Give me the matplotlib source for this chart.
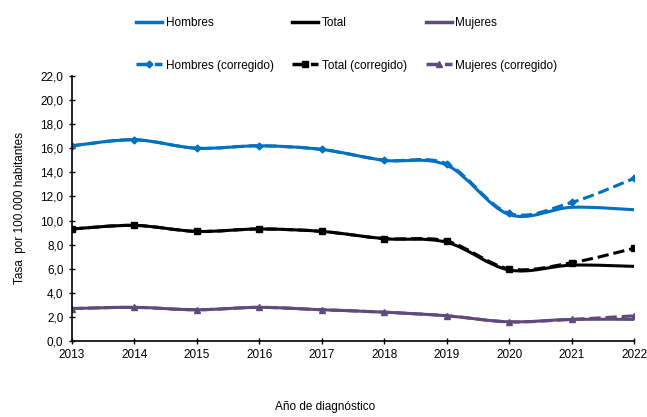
import numpy as np
import matplotlib.pyplot as plt
from matplotlib.path import Path
from matplotlib.patches import PathPatch
from matplotlib.lines import Line2D

plt.rcParams['font.family'] = ['Liberation Sans', 'DejaVu Sans']

years = [2013, 2014, 2015, 2016, 2017, 2018, 2019, 2020, 2021, 2022]

hombres = [16.2, 16.7, 16.0, 16.2, 15.9, 15.0, 14.6, 10.5, 11.1, 10.9]
total = [9.3, 9.6, 9.1, 9.3, 9.1, 8.5, 8.2, 5.9, 6.3, 6.2]
mujeres = [2.7, 2.8, 2.6, 2.8, 2.6, 2.4, 2.1, 1.6, 1.8, 1.8]

hombres_corr = [16.2, 16.7, 16.0, 16.2, 15.9, 15.0, 14.7, 10.6, 11.5, 13.5]
total_corr = [9.3, 9.6, 9.1, 9.3, 9.1, 8.5, 8.3, 6.0, 6.5, 7.7]
mujeres_corr = [2.7, 2.8, 2.6, 2.8, 2.6, 2.4, 2.1, 1.6, 1.8, 2.1]

c_h = '#0070C0'
c_t = '#000000'
c_m = '#604A7B'
fs = 8.5


def smooth_path(x, y):
    # Excel-style smoothed line: cubic Bezier through every point
    x = np.asarray(x, float)
    y = np.asarray(y, float)
    n = len(x)
    verts = [(x[0], y[0])]
    codes = [Path.MOVETO]
    for i in range(n - 1):
        p0 = np.array([x[max(i - 1, 0)], y[max(i - 1, 0)]])
        p1 = np.array([x[i], y[i]])
        p2 = np.array([x[i + 1], y[i + 1]])
        p3 = np.array([x[min(i + 2, n - 1)], y[min(i + 2, n - 1)]])
        c1 = p1 + (p2 - p0) / 6
        c2 = p2 - (p3 - p1) / 6
        verts += [tuple(c1), tuple(c2), tuple(p2)]
        codes += [Path.CURVE4] * 3
    return Path(verts, codes)


fig = plt.figure(figsize=(6.47, 4.17), dpi=100)
ax = fig.add_axes([0.111, 0.182, 0.869, 0.636])

series = [
    (hombres_corr, c_h, '--', 'D', 3.5),
    (total_corr, c_t, '--', 's', 4),
    (mujeres_corr, c_m, '--', '^', 4),
    (hombres, c_h, '-', None, 0),
    (total, c_t, '-', None, 0),
    (mujeres, c_m, '-', None, 0),
]
for vals, col, ls, mk, ms in series:
    ax.add_patch(PathPatch(smooth_path(years, vals), fill=False, edgecolor=col,
                           lw=2.2, linestyle=ls, capstyle='butt'))
    if mk:
        ax.plot(years, vals, linestyle='none', marker=mk, color=col, markersize=ms)

ax.set_xlim(2013, 2022)
ax.set_ylim(0, 22)
ax.set_xticks(years)
ax.set_yticks(np.arange(0, 22.1, 2))
ax.set_yticklabels([f'{v:.1f}'.replace('.', ',') for v in np.arange(0, 22.1, 2)])
ax.tick_params(direction='inout', length=5, labelsize=fs, width=1)
for s in ['top', 'right']:
    ax.spines[s].set_visible(False)
for s in ['left', 'bottom']:
    ax.spines[s].set_linewidth(1.2)

fig.text(0.502, 0.024, 'Año de diagnóstico', fontsize=fs, ha='center', va='center')
ax.set_ylabel('Tasa  por 100.000 habitantes', fontsize=fs, labelpad=10)

handles = [
    Line2D([], [], color=c_h, lw=2.5),
    Line2D([], [], color=c_h, lw=2.5, ls='--', marker='D', markersize=3.5),
    Line2D([], [], color=c_t, lw=2.5),
    Line2D([], [], color=c_t, lw=2.5, ls='--', marker='s', markersize=4),
    Line2D([], [], color=c_m, lw=2.5),
    Line2D([], [], color=c_m, lw=2.5, ls='--', marker='^', markersize=4),
]
labels = ['Hombres', 'Hombres (corregido)', 'Total', 'Total (corregido)',
          'Mujeres', 'Mujeres (corregido)']
fig.legend(handles, labels, ncol=3, loc='upper center', bbox_to_anchor=(0.536, 0.985),
           frameon=False, fontsize=fs, handlelength=2.2, handletextpad=0.3,
           columnspacing=1.6, labelspacing=2.6)

fig.savefig('out.png', dpi=100)
